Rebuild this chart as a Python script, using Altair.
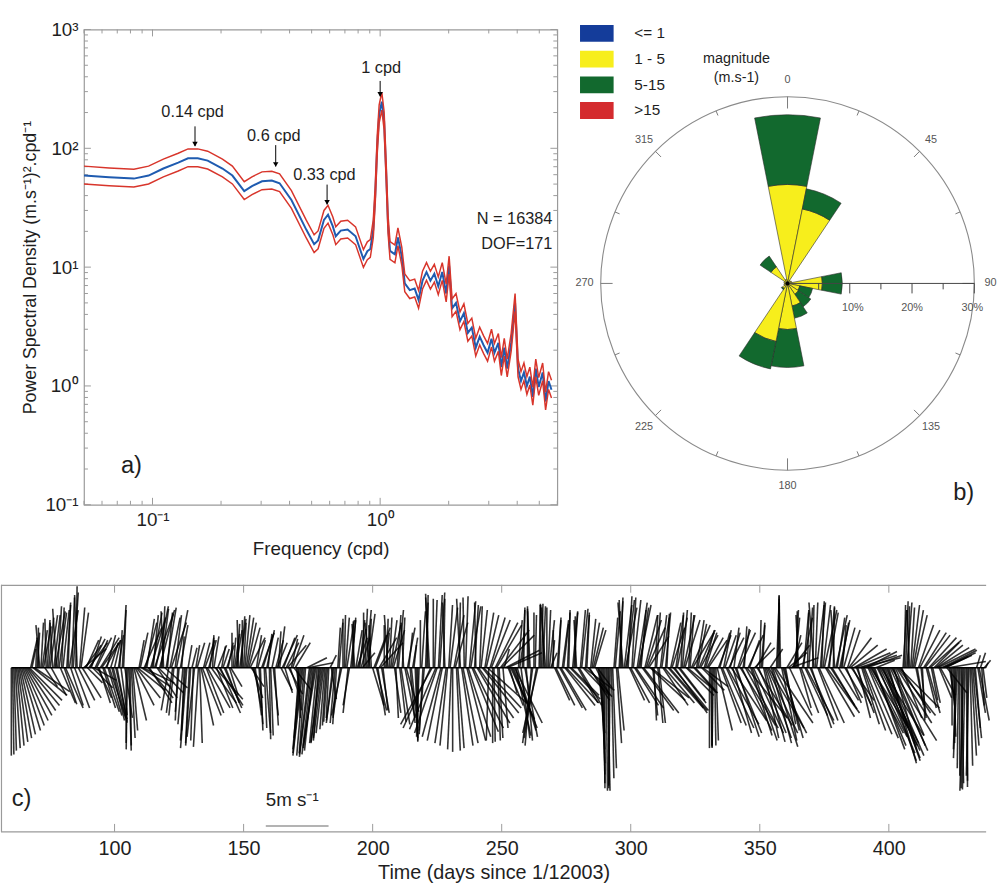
import math
import altair as alt
import pandas as pd

FONT = "Liberation Sans"
INK = "#1e1e1e"
FRAME = "#9a9a9a"
BLUE_LINE = "#1f5bb0"
RED_LINE = "#d8352b"

# ---------------- a) power spectrum of the wind ----------------
freq_cpd = [
    0.05, 0.0645, 0.0828, 0.0961, 0.1116, 0.1297, 0.1432, 0.1581, 0.1747, 0.2029,
    0.2243, 0.2529, 0.2735, 0.3027, 0.3342, 0.3616, 0.4076, 0.4735, 0.5128, 0.5337,
    0.5665, 0.5902, 0.6197, 0.6383, 0.6714, 0.7197, 0.7798, 0.8443, 0.8783, 0.9052,
    0.9326, 0.9514, 0.9706, 0.990, 1.017, 1.041, 1.062, 1.083, 1.105, 1.161,
    1.197, 1.245, 1.283, 1.349, 1.418, 1.475, 1.535, 1.598, 1.663, 1.730,
    1.800, 1.874, 1.950, 2.009, 2.070, 2.154, 2.242, 2.333, 2.428, 2.527,
    2.630, 2.737, 2.848, 2.964, 3.084, 3.177, 3.306, 3.406, 3.509, 3.615,
    3.762, 3.915, 4.034, 4.156, 4.282, 4.412, 4.546, 4.684, 4.826, 4.972,
    5.174, 5.331, 5.493, 5.659,
]
psd_mean = [
    59, 57, 55.6, 59, 67.6, 75.8, 82.4, 82.4, 78.8, 67.6,
    59, 43.6, 48, 52.8, 53.5, 50.8, 36.7, 20.7, 15.6, 16.8,
    25, 27.6, 22, 18.2, 20.3, 20.7, 18.2, 11.7, 13.6, 14.2,
    20.7, 40.4, 105, 193, 247, 169, 65, 22.8, 13.7, 12.8,
    17.8, 12.2, 7.3, 6.4, 6.6, 5.3, 7.7, 9.1, 7.7, 8.8,
    6.9, 9.1, 6.0, 10.3, 4.5, 5.0, 3.5, 4.1, 2.8, 3.1,
    2.1, 2.6, 2.2, 1.9, 2.5, 1.9, 2.3, 1.44, 2.1, 1.4,
    2.3, 5.0, 1.4, 1.1, 1.3, 1.0, 1.2, 0.81, 1.4, 0.98,
    1.3, 0.74, 1.1, 0.93,
]
# multiplicative confidence bounds of the spectral estimate
ci_upper = 1.20
ci_lower = 0.85
n_label = "N = 16384"
dof_label = "DOF=171"

peak_text = ["0.14 cpd", "0.6 cpd", "0.33 cpd", "1 cpd"]
peak_freq = [0.1537, 0.3477, 0.5846, 1.0]
peak_text_freq = [0.150, 0.341, 0.569, 1.01]
peak_text_psd = [200, 127, 59.9, 477]
peak_arrow_top = [153, 106.4, 49.5, 369]
peak_arrow_tip = [104.4, 70.3, 33.7, 273.6]

# ---------------- b) wind rose ----------------
rose_dir = [0, 22.5, 45, 67.5, 90, 112.5, 135, 157.5,
            180, 202.5, 225, 247.5, 270, 292.5, 315, 337.5]
rose_pct_le1 = [0.3, 0.3, 0.2, 0.2, 0.3, 0.3, 0.3, 0.3, 0.3, 0.3, 0.2, 0.2, 0.2, 0.2, 0.2, 0.2]
rose_pct_1_5 = [15.6, 11.9, 0.4, 0.5, 5.3, 1.7, 1.8, 3.4, 7.1, 9.2, 0.8, 0.4, 0.3, 0.4, 3.0, 0.5]
rose_pct_5_15 = [11.2, 3.3, 0.0, 0.0, 3.2, 2.1, 2.4, 2.0, 6.1, 4.5, 0.2, 0.0, 0.0, 0.0, 2.1, 0.0]
rose_pct_gt15 = [0.0, 0.0, 0.0, 0.0, 0.0, 0.0, 0.0, 0.0, 0.0, 0.0, 0.0, 0.0, 0.0, 0.0, 0.0, 0.0]
mag_classes = ["<= 1", "1 - 5", "5-15", ">15"]
mag_colors = ["#143c9a", "#f7ee1c", "#12692e", "#d42b2e"]

# ---------------- c) twice-daily wind vectors (u east, v north, m/s) ----------------
stick_day = list(range(60, 438))
# 00:00 samples
stick_u = [
    0.0, 0.2, 0.6, 1.0, 1.5, 1.9, 2.3, 2.6, 0.3, 2.8,
    0.2, -0.3, 0.4, 1.0, 0.2, 0.6, -0.2, 0.8, 0.3, 1.2,
    0.5, 1.4, 0.2, 1.0, 0.4, 0.1, 1.3, 0.6, 1.8, 1.0,
    1.5, 0.8, 1.8, 1.2, 0.9, 1.4, 1.2, 0.7, 1.3, 1.0,
    0.5, 0.8, 0.2, 0.3, 0.6, -0.1, 0.1, 0.4, 1.5, 2.2,
    0.6, 2.5, 0.9, 2.0, 1.2, 0.4, 1.0, 2.0, 0.6, -0.2,
    0.8, -0.6, 1.2, -0.4, 0.9, -0.3, 0.2, -0.2, -0.5, -0.3,
    0.4, -0.6, 0.6, 0.2, 1.5, 0.8, 1.8, 0.3, 0.1, 2.2,
    0.7, 1.6, 0.5, 1.1, 0.4, 0.9, 0.2, 0.5, -0.1, 0.3,
    0.2, 0.6, 0.9, 1.0, 0.6, 0.4, 0.3, 1.0, 0.2, 0.6,
    0.1, 0.5, 0.3, 0.8, 0.4, 1.2, 0.6, 1.5, 0.8, 0.9,
    1.2, 0.2, -0.6, -0.8, -0.5, 2.0, -0.9, -0.7, -1.0, -0.4,
    -0.8, -0.6, -0.3, -0.2, 0.4, -0.6, -0.3, 0.3, -0.8, 0.1,
    0.6, -0.5, 0.3, -0.2, 0.8, 0.4, 1.0, 0.2, 0.6, -0.4,
    0.9, 1.2, 0.6, 1.8, 0.4, 0.3, -0.3, 0.5, 0.9, 0.2,
    0.4, 0.7, -0.2, 1.0, 0.3, 0.5, 0.2, 0.1, -0.2, 0.3,
    -0.4, 0.1, -0.3, -2.5, 0.2, -1.8, 0.4, -1.2, -0.2, -0.6,
    0.6, 0.0, 1.0, 0.5, -0.3, 1.2, 0.2, 1.8, 0.8, 2.4,
    -0.1, 2.8, 0.5, 3.0, 1.0, -0.2, 1.5, 0.1, 2.0, 0.3,
    2.6, 0.4, 2.8, 0.6, 1.6, 2.2, 1.5, 0.4, 0.2, 1.0,
    0.0, -0.2, -0.8, 0.1, -1.2, 0.0, 0.2, -0.4, 0.2, 0.5,
    0.0, 1.5, 0.2, 2.0, 0.4, 2.6, 0.1, 2.2, 0.3, -0.2,
    1.8, 0.5, 2.4, 0.2, 1.6, 0.6, 0.9, 1.2, 0.4, 0.2,
    0.0, 0.2, -0.1, 0.3, 0.4, 0.5, 0.2, -0.4, 0.9, 0.3,
    1.5, 0.6, 2.2, 1.0, 0.4, 2.8, 1.2, 1.6, 3.0, 0.2,
    0.3, 0.5, 0.6, 2.4, 0.2, 3.0, 1.0, 2.6, 0.8, 2.0,
    0.4, 1.2, 2.4, 0.3, 1.8, 1.6, 0.7, 1.4, 2.0, 0.9,
    1.5, 0.1, -0.1, 0.2, 1.0, 1.6, 0.6, 2.2, 1.2, 2.8,
    0.4, 1.8, 1.3, 2.4, 0.2, 3.2, 0.8, 2.0, 1.6, 2.8,
    0.1, 0.2, 1.6, 2.4, 1.0, 2.0, 3.0, 0.1, -0.1, 1.6,
    0.8, 1.5, 2.2, 0.6, 0.2, -0.2, 1.4, 0.4, 2.2, 0.3,
    1.6, -0.4, 0.6, 2.0, 0.2, 1.0, 2.6, 0.4, 1.8, -0.3,
    0.6, 0.8, 0.3, 1.4, 1.0, 2.2, 1.5, 2.8, 1.0, 3.2,
    1.8, 2.5, 2.4, 3.0, 2.6, 1.5, 2.9, 3.4, 2.6, 3.0,
    2.2, 3.6, 1.8, 2.8, 3.2, 1.6, 0.1, 0.4, -0.2, 0.6,
    1.0, 0.4, 1.6, 0.2, 2.0, 1.0, 2.5, 0.6, 2.2, 3.0,
    1.2, 2.6, 1.8, 3.0, 0.3, 0.2, -0.2, -0.1, 0.2, -0.3,
    0.1, -0.2, 0.4, 0.6, 0.3, 0.8, 0.2, 0.5,
]
stick_v = [
    -7.0, -6.6, -6.2, -5.6, -5.0, -4.2, -3.4, -2.6, 1.5, -1.9,
    2.8, 3.4, 3.0, -1.5, 3.8, 4.2, 3.6, 4.5, 4.9, -2.8,
    4.6, -3.2, 5.2, -3.0, 6.0, 6.5, -2.6, 4.4, 1.5, 2.2,
    2.0, 2.5, -1.0, 2.4, -2.8, 2.0, -3.5, 2.6, -4.0, -4.2,
    2.2, -4.3, 3.0, 5.0, -4.0, -6.5, -6.2, -5.0, -3.0, -1.8,
    2.8, -1.2, 3.6, -2.4, 4.0, 4.2, 4.9, -2.0, 4.7, 4.5,
    4.8, -3.4, 3.6, -3.8, 4.6, -3.5, 2.5, -5.0, -6.4, -6.0,
    1.6, -5.5, 2.0, -6.0, -3.8, 2.2, -3.2, 2.4, 2.6, -2.5,
    1.8, -3.6, 1.5, -2.8, 2.0, -1.5, 2.4, 3.0, 3.8, 4.1,
    3.6, 4.0, 3.2, -1.5, -3.2, 2.6, -4.5, 2.8, -4.8, 3.0,
    -5.7, 2.4, -4.6, 2.0, 3.3, 2.6, -2.0, 1.8, -2.3, 2.6,
    2.0, -4.0, -6.5, -7.0, -6.8, 0.4, -7.1, -6.6, -6.2, -5.8,
    -6.0, -5.2, -4.6, -4.0, -2.5, -4.2, -4.5, 3.6, -3.8, 4.2,
    3.8, -3.0, 4.0, 3.5, 2.4, 3.8, 1.2, 4.7, 4.3, 3.6,
    -3.0, 3.2, -3.8, 2.0, -3.4, 2.8, 4.2, 3.8, 3.0, -4.0,
    4.6, -4.5, 3.6, -3.5, 2.8, -4.8, 1.8, -5.9, -5.5, 4.5,
    -5.0, 5.8, 5.6, -4.5, 5.4, -5.2, 6.0, -5.8, 5.2, -6.2,
    4.8, -6.7, 3.6, -6.4, 5.5, -6.0, 5.7, -5.5, 4.9, -4.8,
    5.2, -4.0, 4.6, -3.2, 4.2, -5.8, 3.8, -5.9, 3.4, -5.6,
    2.6, 1.5, 1.2, -2.0, -3.8, -4.4, -5.0, 2.8, 4.6, -5.5,
    4.9, 4.5, -6.0, 4.2, -5.2, 5.1, 4.9, 5.0, 4.6, 1.2,
    3.0, -3.0, 4.0, -3.4, 3.5, -2.8, 4.6, -2.2, 4.4, 3.8,
    -3.0, 4.7, -1.8, 4.2, -2.6, 3.6, 3.0, -1.6, -6.5, -8.5,
    -9.6, -9.8, -9.4, -8.0, 4.5, -5.0, 5.6, 5.2, 4.8, 5.7,
    -2.8, 5.4, -3.2, 5.0, 4.6, -3.6, 3.8, 2.5, -2.4, -4.2,
    4.4, -4.4, 4.0, -2.8, 4.3, -3.4, 3.2, -3.6, 4.0, -2.6,
    4.6, 3.8, -2.0, 4.2, 3.0, -1.8, 3.5, 2.6, -1.5, 2.8,
    2.2, -6.2, -6.4, -5.8, 2.6, -4.4, 3.0, -4.8, 2.4, -4.2,
    3.2, -5.5, 2.8, -5.0, 3.3, -4.0, 2.2, -5.8, 1.6, -4.6,
    3.8, 3.4, -5.9, -5.2, 1.5, -6.3, -4.4, 5.8, 5.5, -5.6,
    -4.5, 1.2, 0.8, 2.6, 4.6, 4.2, -3.6, 4.4, -4.2, 4.8,
    -4.8, 5.2, 5.0, -4.4, 5.3, 4.6, -3.6, 4.9, -3.0, 4.6,
    4.0, 3.8, 3.4, -2.4, 3.0, 1.8, -3.0, 1.2, -4.0, 0.8,
    -5.0, 1.3, -5.6, -4.8, -6.2, 0.6, -6.8, -5.4, -7.4, -7.0,
    -7.6, -5.8, -6.5, -4.4, -3.2, -4.0, 5.0, 5.2, 4.6, 5.0,
    4.2, -2.4, 3.0, -4.2, 2.6, -3.6, 2.2, -2.8, 1.8, 1.5,
    -2.2, 1.2, 0.9, 0.5, -3.0, -5.5, -6.5, -8.0, -9.2, -9.8,
    -9.5, -8.6, -7.0, -5.6, 1.0, -4.2, -3.0, 0.6,
]
# 12:00 samples
stick_u_noon = [
    0.1, 0.4, 0.8, 1.2, 1.7, 2.1, 2.5, 0.5, 2.7, 0.1,
    0.0, 0.2, 0.6, -0.1, 0.4, 1.2, 0.5, -0.3, 0.6, 0.2,
    1.0, 0.3, 0.7, 0.2, 1.2, -0.2, 0.4, 1.5, 1.3, 1.2,
    1.2, 1.6, 1.0, 1.1, 1.5, 1.0, 1.2, 1.1, 0.6, 1.1,
    0.9, 0.4, 0.5, 0.2, 0.0, 0.2, 0.3, 1.0, 1.9, 0.4,
    2.3, 1.4, 0.6, 1.8, 0.8, 1.6, 1.6, 1.1, 0.2, 1.8,
    0.4, 0.8, -0.5, 0.5, -0.2, 0.6, -0.4, -0.4, 0.3, -0.4,
    -0.2, 0.3, -0.4, 1.0, 0.5, 1.4, 0.6, 2.0, 0.4, 1.3,
    1.9, 0.3, 1.4, 0.6, 0.7, 0.0, 0.4, 0.2, 0.5, 0.0,
    0.4, 0.7, 1.2, 0.8, 0.5, 0.6, 0.2, 0.8, 0.4, 0.3,
    0.2, 0.4, 0.6, 0.2, 0.9, 0.9, 1.0, 1.1, 0.5, 1.4,
    0.4, -0.4, -0.7, -0.6, 1.6, -0.8, -0.8, -0.9, -0.6, -0.7,
    -0.7, -0.4, -0.3, 0.5, -0.5, -0.4, 0.2, -0.6, 0.0, 0.3,
    -0.4, 0.4, 0.0, 0.5, 0.6, 0.7, 0.0, 0.4, 0.2, -0.2,
    1.0, 0.8, 1.4, 0.6, 0.0, 0.1, 0.2, 0.7, 0.5, 0.3,
    0.5, 0.2, 0.8, 0.6, 0.4, 0.4, 0.2, 0.0, 0.0, -0.3,
    0.2, -0.2, -2.2, 0.0, -2.1, 0.3, -1.5, 0.1, -0.9, 0.3,
    -0.3, 0.8, 0.3, 0.1, 0.9, -0.1, 1.5, 0.5, 2.1, 0.3,
    2.6, 0.2, 2.9, 0.7, 3.1, 1.2, 0.0, 1.8, 0.2, 2.3,
    0.4, 2.7, 1.2, 1.9, 1.9, 1.2, 0.3, 0.7, 0.1, 0.5,
    -0.1, -0.5, 0.0, -1.0, 0.1, 0.1, -0.2, 0.0, 0.4, 0.2,
    1.2, 0.3, 1.8, 0.5, 2.4, 0.2, 2.4, 0.4, 0.0, 1.6,
    0.4, 2.1, 0.3, 1.9, 0.4, 0.8, 1.0, 0.5, 0.3, 0.1,
    0.1, 0.0, 0.2, 0.3, 0.4, 0.3, -0.2, 0.6, 0.6, 1.2,
    0.3, 1.9, 0.8, 0.7, 2.5, 1.0, 1.4, 2.8, 0.4, 0.2,
    0.4, 0.5, 2.0, 0.4, 2.8, 0.8, 2.8, 0.6, 2.2, 0.2,
    0.9, 2.2, 0.2, 1.5, 1.8, 0.6, 1.2, 1.8, 0.8, 1.3,
    0.0, 0.0, 0.1, 1.2, 0.8, 1.9, 0.9, 2.5, 0.8, 1.5,
    2.1, 1.0, 2.8, 0.5, 2.6, 1.2, 1.7, 2.4, 1.2, 2.2,
    0.3, 1.2, 2.0, 2.8, 1.6, 2.6, 0.2, 0.0, 1.2, 1.2,
    1.2, 1.8, 1.4, 0.4, 0.0, 0.9, 0.8, 1.8, 0.1, 1.9,
    0.1, 0.2, 1.6, 0.4, 0.6, 2.3, 0.8, 2.1, 0.1, 0.9,
    1.6, 0.6, 0.9, 1.2, 1.8, 1.8, 2.6, 1.4, 3.0, 1.4,
    2.2, 2.8, 2.7, 2.8, 2.4, 3.2, 3.1, 3.0, 2.8, 2.6,
    3.0, 2.6, 2.3, 3.0, 2.4, 0.3, 0.2, 0.1, 0.3, 0.8,
    0.6, 1.2, 0.4, 1.8, 0.8, 2.2, 0.5, 2.0, 2.6, 1.0,
    2.8, 2.2, 1.6, 0.4, 0.0, 0.0, -0.3, 0.0, -0.1, -0.2,
    0.0, 0.2, 0.5, 0.4, 0.6, 0.4, 0.3, 0.2,
]
stick_v_noon = [
    -6.9, -6.4, -5.9, -5.3, -4.6, -3.8, -3.0, 2.2, -2.2, 2.4,
    3.2, 3.6, 3.3, 3.9, 4.0, -2.2, 4.2, 4.7, 4.4, 4.8,
    -2.9, 5.0, 4.6, 5.6, -3.2, 5.8, 4.8, -2.4, 1.8, -1.2,
    2.3, -1.6, 2.2, -2.4, 2.4, -3.2, 2.2, -3.8, 2.0, -4.4,
    -4.1, 2.6, -3.8, 4.6, -6.0, -6.6, -5.6, -4.2, -2.4, 2.2,
    -1.5, 3.2, 3.9, -2.8, 4.4, 4.6, -2.4, 4.3, 4.9, -1.6,
    4.4, 4.0, -3.6, 4.2, -4.2, 3.4, -4.5, -5.8, 1.8, -6.2,
    -5.8, 1.8, -6.3, -4.6, 2.0, -3.6, 2.2, -2.8, 2.5, -3.2,
    -3.0, 1.7, -3.2, 1.8, -2.2, 2.8, 2.7, 3.5, 3.9, 3.8,
    4.2, 3.6, 2.4, -2.4, -3.8, 2.2, -5.0, 2.6, -5.2, 2.7,
    -5.4, -3.8, 2.2, 2.9, -1.8, 2.4, 2.0, -2.1, 2.3, -1.8,
    -3.4, -5.6, -6.8, -7.0, 0.8, -6.9, -6.9, -6.4, -6.0, -5.9,
    -5.6, -4.9, -4.3, 1.0, -4.4, -4.4, 3.2, -4.0, 3.9, 4.0,
    -3.6, 3.8, 3.7, 3.0, 3.1, 2.4, 4.4, 4.6, 3.9, 3.4,
    2.6, -3.4, 2.4, -3.6, 3.4, 3.9, 4.0, 3.4, -3.6, 4.2,
    -4.3, 4.0, -4.0, 3.2, -4.4, 2.4, -5.6, -5.8, 3.8, -5.3,
    5.2, 5.9, -4.8, 5.5, -4.9, 5.8, -5.5, 5.5, -6.0, 5.0,
    -6.5, 4.2, -6.6, 5.2, -6.2, 5.6, -5.8, 5.3, -5.1, 5.0,
    -4.4, 4.9, -3.6, 4.4, -2.8, 4.0, -6.0, 3.6, -5.8, 3.0,
    -4.8, 1.4, -3.0, -4.1, -4.8, -5.4, 3.8, -5.6, 4.8, -5.8,
    4.7, -6.2, 4.4, -5.6, 5.0, 5.1, 4.8, 4.8, 3.8, 2.2,
    -2.6, 3.8, -3.2, 3.8, -3.0, 4.4, -2.5, 4.5, 4.1, -2.8,
    4.6, -2.2, 4.4, -2.3, 3.9, 3.2, -2.0, -5.2, -7.6, -9.2,
    -9.8, -9.6, -8.8, 4.0, -6.0, 5.3, 5.4, 5.0, 5.4, -2.6,
    5.6, -3.0, 5.2, 4.8, -3.4, 4.2, 3.2, -2.6, -3.8, 4.2,
    -4.4, 4.2, -3.0, 4.4, -3.2, 3.6, -3.4, 4.2, -2.8, 4.4,
    4.2, -2.2, 4.4, 3.4, -2.0, 3.8, 2.8, -1.8, 3.0, 2.4,
    -6.4, -6.3, -6.2, -5.0, 2.8, -4.6, 2.6, -4.5, 2.8, -5.2,
    -5.2, 3.0, -4.6, 3.1, -4.8, 2.6, -5.4, -5.2, 2.0, -5.2,
    3.6, -5.6, -5.6, -4.8, -6.0, -5.2, 5.2, 5.7, -5.8, -5.0,
    2.0, -3.8, 1.8, 4.0, 4.5, -3.2, 4.0, -3.8, 4.6, -4.5,
    5.0, 5.2, -4.2, 5.2, 5.0, -3.9, 4.4, -3.3, 4.8, 4.2,
    -2.6, 3.6, 3.2, -2.8, 2.4, -2.6, 1.5, -3.6, 1.0, -4.5,
    -5.3, 1.0, -5.2, -5.5, -6.5, -6.2, -6.0, -6.6, -7.2, -7.4,
    -6.6, -6.2, -5.4, -3.8, -3.6, 4.6, 5.3, 4.9, 4.8, 4.6,
    -3.0, 3.4, -4.0, 2.8, -3.2, 2.4, -2.6, 2.0, 1.6, -2.4,
    1.4, 1.0, -2.0, -2.6, -4.6, -6.0, -7.2, -8.6, -9.6, -9.7,
    -9.0, -7.8, -6.2, -4.8, -3.6, 1.2, -2.4, 0.4,
]
time_ticks = [100, 150, 200, 250, 300, 350, 400]
scale_bar_ms = 5


def one(**cols):
    return pd.DataFrame({k: [v] for k, v in cols.items()})


# ======================= panel a =======================
WA, HA = 479, 481
xa = alt.Scale(type="log", domain=[0.05, 6], nice=False)
ya = alt.Scale(type="log", domain=[0.1, 1000], nice=False)
axis_xa = alt.Axis(
    values=[0.1, 1], labelExpr="datum.value < 0.5 ? '10⁻¹' : '10⁰'",
    ticks=False, domain=False, grid=False, labelFlush=False,
    title="Frequency (cpd)", labelFontSize=19, titleFontSize=19,
    labelPadding=6, titlePadding=10, labelColor=INK, titleColor=INK,
    titleFontWeight="normal", labelFont=FONT, titleFont=FONT,
)
axis_ya = alt.Axis(
    values=[0.1, 1, 10, 100, 1000],
    labelExpr="datum.value < 0.5 ? '10⁻¹' : datum.value < 5 ? '10⁰' : "
              "datum.value < 50 ? '10¹' : datum.value < 500 ? '10²' : '10³'",
    ticks=False, domain=False, grid=False, labelFlush=False, labelOverlap=False,
    title="Power Spectral Density (m.s⁻¹)².cpd⁻¹", labelFontSize=19, titleFontSize=18,
    labelPadding=6, titlePadding=6, labelColor=INK, titleColor=INK,
    titleFontWeight="normal", labelFont=FONT, titleFont=FONT,
)


def ax(field):
    return alt.X(field, type="quantitative", scale=xa, axis=axis_xa)


def ay(field):
    return alt.Y(field, type="quantitative", scale=ya, axis=axis_ya)


spec = pd.DataFrame({"f": freq_cpd, "psd": psd_mean})
spec["hi"] = spec["psd"] * ci_upper
spec["lo"] = spec["psd"] * ci_lower

mean_line = alt.Chart(spec).mark_line(color=BLUE_LINE, strokeWidth=2).encode(x=ax("f"), y=ay("psd"))
hi_line = alt.Chart(spec).mark_line(color=RED_LINE, strokeWidth=1.5).encode(x=ax("f"), y=ay("hi"))
lo_line = alt.Chart(spec).mark_line(color=RED_LINE, strokeWidth=1.5).encode(x=ax("f"), y=ay("lo"))

ann = pd.DataFrame({
    "label": peak_text, "f": peak_freq, "ft": peak_text_freq,
    "pt": peak_text_psd, "top": peak_arrow_top, "tip": peak_arrow_tip,
})
shafts = alt.Chart(ann).mark_rule(color="black", strokeWidth=1).encode(
    x=ax("f"), y=ay("top"), y2="tip:Q")
heads = alt.Chart(ann).mark_point(shape="triangle-down", filled=True, color="black",
                                  size=30, opacity=1, yOffset=-2).encode(x=ax("f"), y=ay("tip"))
peak_labels = alt.Chart(ann).mark_text(font=FONT, fontSize=16.5, color=INK).encode(
    x=ax("ft"), y=ay("pt"), text="label:N")

stats = pd.DataFrame({"f": [5.71, 5.71], "p": [25.3, 15.7], "t": [n_label, dof_label]})
stat_text = alt.Chart(stats).mark_text(font=FONT, fontSize=16.5, color=INK, align="right").encode(
    x=ax("f"), y=ay("p"), text="t:N")
tag_a = alt.Chart(one(f=0.0808, p=0.211, t="a)")).mark_text(font=FONT, fontSize=24, color=INK).encode(
    x=ax("f"), y=ay("p"), text="t:N")


def a_ticks(vals, length, side):
    df = pd.DataFrame({"v": vals})
    m = alt.Chart(df).mark_rule(color=FRAME, strokeWidth=1)
    if side == "bottom":
        return m.encode(x=ax("v"), y=alt.value(HA), y2=alt.value(HA - length))
    if side == "top":
        return m.encode(x=ax("v"), y=alt.value(0), y2=alt.value(length))
    if side == "left":
        return m.encode(y=ay("v"), x=alt.value(0), x2=alt.value(length))
    return m.encode(y=ay("v"), x=alt.value(WA), x2=alt.value(WA - length))


x_major = [0.1, 1]
x_minor = [0.05, 0.06, 0.07, 0.08, 0.09] + [m / 10 for m in range(2, 10)] + [2, 3, 4, 5, 6]
y_major = [0.1, 1, 10, 100, 1000]
y_minor = [m * 10.0 ** e for e in range(-1, 3) for m in range(2, 10)]
tick_layers = []
for side in ("bottom", "top"):
    tick_layers += [a_ticks(x_major, 7, side), a_ticks(x_minor, 4, side)]
for side in ("left", "right"):
    tick_layers += [a_ticks(y_major, 7, side), a_ticks(y_minor, 4, side)]

panel_a = alt.layer(
    *tick_layers, mean_line, hi_line, lo_line, shafts, heads, peak_labels, stat_text, tag_a
).properties(width=WA, height=HA, view=alt.ViewBackground(stroke=FRAME, strokeWidth=1.2))

# ======================= panel b =======================
WB, HB = 441, 520
PX_PER_PCT = 6.3
CX, CY = 231.0, 257.0       # rose centre inside the panel, in pixels
xb = alt.Scale(domain=[-CX / PX_PER_PCT, (WB - CX) / PX_PER_PCT], nice=False, zero=False)
yb = alt.Scale(domain=[-(HB - CY) / PX_PER_PCT, CY / PX_PER_PCT], nice=False, zero=False)
theta_scale = alt.Scale(domain=[0, 360], range=[0, 2 * math.pi], nice=False)
radius_scale = alt.Scale(type="linear", domain=[0, 30], range=[0, 30 * PX_PER_PCT], zero=True, nice=False)


def bx(field):
    return alt.X(field, type="quantitative", scale=xb, axis=None)


def by(field):
    return alt.Y(field, type="quantitative", scale=yb, axis=None)


rows = []
for i, d in enumerate(rose_dir):
    r = 0.0
    parts = [rose_pct_le1[i], rose_pct_1_5[i], rose_pct_5_15[i], rose_pct_gt15[i]]
    for cls, pct in zip(mag_classes, parts):
        if pct > 0:
            t0 = d - 11.25
            if t0 < 0:
                t0 += 360
            rows.append({"cx": 0, "cy": 0, "cls": cls, "t0": t0, "t1": t0 + 22.5,
                         "r0": r, "r1": r + pct})
        r += pct
rose_df = pd.DataFrame(rows)

legend_b = alt.Legend(
    orient="none", legendX=586, legendY=-13, title=None,
    symbolType="M-1,-0.5H1V0.5H-1Z", symbolSize=1156, symbolStrokeWidth=0, symbolOpacity=1,
    labelFontSize=15.5, labelFont=FONT, labelColor=INK, labelOffset=21,
    rowPadding=0, padding=0, offset=0,
)
sectors = alt.Chart(rose_df).mark_arc(stroke="#2a2a2a", strokeWidth=0.6).encode(
    x=bx("cx"), y=by("cy"),
    theta=alt.Theta("t0:Q", scale=theta_scale, stack=None),
    theta2=alt.Theta2("t1:Q"),
    radius=alt.Radius("r1:Q", scale=radius_scale),
    radius2=alt.Radius2("r0:Q"),
    color=alt.Color("cls:N", scale=alt.Scale(domain=mag_classes, range=mag_colors), legend=legend_b),
)
outline = alt.Chart(one(cx=0, cy=0, t0=0, t1=360, r1=30)).mark_arc(
    fillOpacity=0, stroke="#8a8a8a", strokeWidth=1.1).encode(
    x=bx("cx"), y=by("cy"),
    theta=alt.Theta("t0:Q", scale=theta_scale, stack=None),
    theta2=alt.Theta2("t1:Q"),
    radius=alt.Radius("r1:Q", scale=radius_scale),
)

ring = []
for k in range(16):
    a = math.radians(22.5 * k)
    ln = 1.9 if k % 4 == 0 else (1.27 if k % 2 == 0 else 0.8)
    ring.append({"x0": 30 * math.sin(a), "y0": 30 * math.cos(a),
                 "x1": (30 - ln) * math.sin(a), "y1": (30 - ln) * math.cos(a)})
ring_ticks = alt.Chart(pd.DataFrame(ring)).mark_rule(color="#7a7a7a", strokeWidth=1).encode(
    x=bx("x0"), y=by("y0"), x2="x1:Q", y2="y1:Q")

dir_lab = []
for k in range(8):
    a = math.radians(45 * k)
    dir_lab.append({"x": 32.6 * math.sin(a), "y": 32.6 * math.cos(a), "t": str(45 * k)})
dir_text = alt.Chart(pd.DataFrame(dir_lab)).mark_text(font=FONT, fontSize=11, color="#555555").encode(
    x=bx("x"), y=by("y"), text="t:N")

radial_axis = alt.Chart(one(x0=0, y0=0, x1=30, y1=0)).mark_rule(color="#444444", strokeWidth=1).encode(
    x=bx("x0"), y=by("y0"), x2="x1:Q", y2="y1:Q")
rt = [{"x": p, "y0": 0, "y1": -(1.6 if p % 10 == 0 else 0.95)} for p in range(5, 31, 5)]
radial_ticks = alt.Chart(pd.DataFrame(rt)).mark_rule(color="#444444", strokeWidth=1).encode(
    x=bx("x"), y=by("y0"), y2="y1:Q")
rl = pd.DataFrame({"x": [10.5, 20.0, 29.7], "y": [-4.0, -4.0, -4.0], "t": ["10%", "20%", "30%"]})
radial_labels = alt.Chart(rl).mark_text(font=FONT, fontSize=11, color="#555555").encode(
    x=bx("x"), y=by("y"), text="t:N")
centre_dot = alt.Chart(one(cx=0, cy=0)).mark_point(filled=True, color="black", size=14, opacity=1).encode(
    x=bx("cx"), y=by("cy"))

mag_title = pd.DataFrame({"x": [-8.2, -8.2], "y": [36.0, 33.0], "t": ["magnitude", "(m.s-1)"]})
mag_text = alt.Chart(mag_title).mark_text(font=FONT, fontSize=14.5, color=INK).encode(
    x=bx("x"), y=by("y"), text="t:N")
tag_b = alt.Chart(one(x=28.3, y=-33.7, t="b)")).mark_text(font=FONT, fontSize=24, color=INK).encode(
    x=bx("x"), y=by("y"), text="t:N")

panel_b = alt.layer(
    outline, ring_ticks, dir_text, sectors, radial_axis, radial_ticks, radial_labels,
    centre_dot, mag_text, tag_b
).properties(width=WB, height=HB)

# ======================= panel c =======================
WC, HC = 997, 250
t_dom = [56.0, 437.7]
v_dom = [-13.07, 6.61]
px_per_day = WC / (t_dom[1] - t_dom[0])
px_per_ms = HC / (v_dom[1] - v_dom[0])
days_per_ms = px_per_ms / px_per_day   # same pixel length for 1 m/s in u and v

xc = alt.Scale(domain=t_dom, nice=False, zero=False)
yc = alt.Scale(domain=v_dom, nice=False, zero=False)
axis_xc = alt.Axis(
    values=time_ticks, ticks=False, domain=False, grid=False, labelFlush=False,
    title="Time (days since 1/12003)", labelFontSize=20, titleFontSize=20,
    labelPadding=6.5, titlePadding=5, labelColor=INK, titleColor=INK,
    titleFontWeight="normal", labelFont=FONT, titleFont=FONT,
)


def cx_(field):
    return alt.X(field, type="quantitative", scale=xc, axis=axis_xc)


def cy_(field):
    return alt.Y(field, type="quantitative", scale=yc, axis=None)


sdf = pd.concat([
    pd.DataFrame({"day": stick_day, "u": stick_u, "v": stick_v}),
    pd.DataFrame({"day": [d + 0.5 for d in stick_day], "u": stick_u_noon, "v": stick_v_noon}),
], ignore_index=True)
sdf["tip"] = sdf["day"] + sdf["u"] * days_per_ms
sdf["base"] = 0.0

sticks = alt.Chart(sdf).mark_rule(color="black", strokeWidth=1.6, opacity=0.8).encode(
    x=cx_("day"), x2="tip:Q", y=cy_("base"), y2="v:Q")
zero_line = alt.Chart(one(d0=stick_day[0], d1=stick_day[-1] + 0.5, z=0.0)).mark_rule(
    color="black", strokeWidth=1.5).encode(x=cx_("d0"), x2="d1:Q", y=cy_("z"))

frame_df = one(k=0)
frame_top = alt.Chart(frame_df).mark_rule(color=FRAME, strokeWidth=1.2).encode(
    x=alt.value(0), x2=alt.value(WC), y=alt.value(0.5))
frame_bottom = alt.Chart(frame_df).mark_rule(color=FRAME, strokeWidth=1.2).encode(
    x=alt.value(0), x2=alt.value(WC), y=alt.value(HC))
frame_left = alt.Chart(frame_df).mark_rule(color=FRAME, strokeWidth=1.2).encode(
    x=alt.value(0.5), y=alt.value(0), y2=alt.value(HC))
tt = pd.DataFrame({"v": time_ticks})
c_ticks_top = alt.Chart(tt).mark_rule(color=FRAME, strokeWidth=1).encode(
    x=cx_("v"), y=alt.value(0), y2=alt.value(8))
c_ticks_bottom = alt.Chart(tt).mark_rule(color=FRAME, strokeWidth=1).encode(
    x=cx_("v"), y=alt.value(HC), y2=alt.value(HC - 8))

bar_start = 158.6
bar = alt.Chart(one(s0=bar_start, s1=bar_start + scale_bar_ms * days_per_ms, sv=-12.6)).mark_rule(
    color="#9a9a9a", strokeWidth=1.6).encode(x=cx_("s0"), x2="s1:Q", y=cy_("sv"))
bar_label = alt.Chart(one(s=bar_start, sv=-10.5, t="5m s⁻¹")).mark_text(
    font=FONT, fontSize=19, color=INK, align="left").encode(x=cx_("s"), y=cy_("sv"), text="t:N")
tag_c = alt.Chart(one(s=64.0, sv=-10.5, t="c)")).mark_text(font=FONT, fontSize=24, color=INK).encode(
    x=cx_("s"), y=cy_("sv"), text="t:N")

panel_c = alt.layer(
    frame_top, frame_bottom, frame_left, c_ticks_top, c_ticks_bottom,
    sticks, zero_line, bar, bar_label, tag_c
).properties(width=WC, height=HC)

# ======================= layout =======================
spacer = alt.Chart(one(s=0)).mark_point(opacity=0, size=0).encode(
    x=alt.value(0), y=alt.value(0)).properties(width=19, height=20)

top_row = alt.hconcat(spacer, panel_a, panel_b, spacing=0)
chart = alt.vconcat(top_row, panel_c, spacing=25).properties(
    padding={"left": 0, "top": 11.5, "right": 0, "bottom": 0}
).configure(font=FONT).configure_view(strokeWidth=0)

chart.save("out.html", embed_options={"renderer": "svg", "actions": False})
